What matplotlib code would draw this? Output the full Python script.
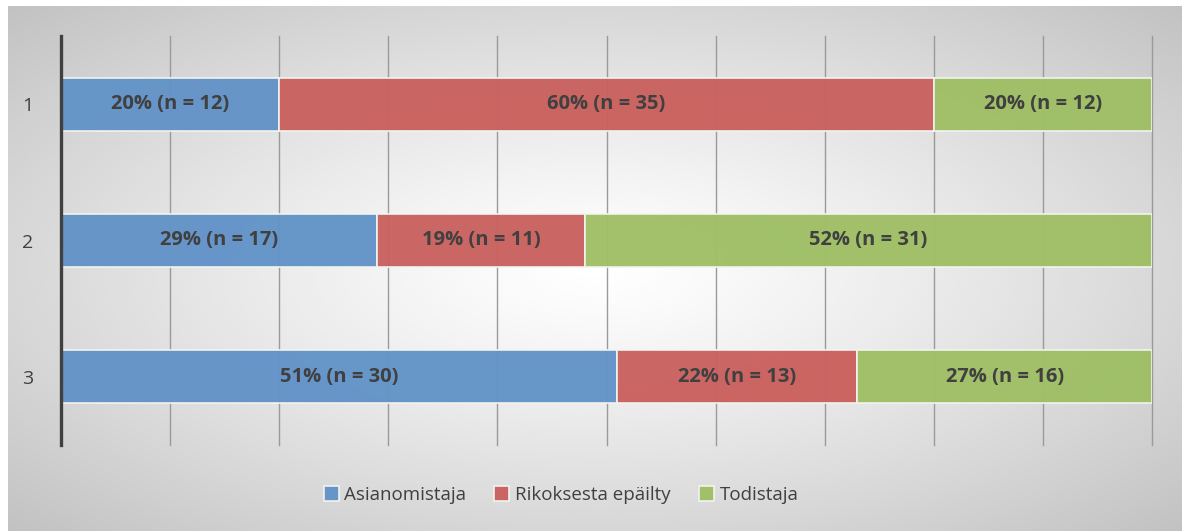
import matplotlib.pyplot as plt
import numpy as np

rows = ['1', '2', '3']
series = ['Asianomistaja', 'Rikoksesta epäilty', 'Todistaja']
pct = {
    'Asianomistaja': [20, 29, 51],
    'Rikoksesta epäilty': [60, 19, 22],
    'Todistaja': [20, 52, 27],
}
counts = {
    'Asianomistaja': [12, 17, 30],
    'Rikoksesta epäilty': [35, 11, 13],
    'Todistaja': [12, 31, 16],
}
colors = ['#6393c8', '#c9615e', '#9fbf65']

plt.rcParams['font.family'] = ['Open Sans', 'DejaVu Sans']

W, H = 1187, 531
fig = plt.figure(figsize=(W / 100, H / 100), dpi=100)

# radial gradient background of the chart area
bg = fig.add_axes([8 / W, 0, (1182 - 8) / W, (531 - 6) / H], zorder=-10)
gx, gy = np.meshgrid(np.linspace(-1, 1, 600), np.linspace(-1, 1, 300))
r = np.sqrt(gx ** 2 + gy ** 2) / np.sqrt(2)
shade = 1.0 - 0.24 * r ** 1.2
bg.imshow(shade, cmap='gray', vmin=0, vmax=1, aspect='auto',
          extent=[0, 1, 0, 1], interpolation='bicubic')
bg.set_axis_off()

ax = fig.add_axes([61 / W, 1 - 445 / H, (1152 - 61) / W, (445 - 36) / H])
ax.patch.set_alpha(0)

y = np.arange(len(rows))
left = np.zeros(len(rows))
for name, c in zip(series, colors):
    vals = np.array(pct[name])
    bars = ax.barh(y, vals, left=left, height=0.39, color=c, alpha=0.97,
                   edgecolor='#f2f5f0', linewidth=1.2, label=name, zorder=3)
    for i, b in enumerate(bars):
        ax.text(left[i] + vals[i] / 2, y[i], f'{vals[i]}% (n = {counts[name][i]})',
                ha='center', va='center', fontsize=14.5, fontweight='bold',
                color='#404040', zorder=4)
    left += vals

ax.set_xlim(0, 100)
ax.set_ylim(len(rows) - 0.5, -0.5)
ax.set_xticks(np.arange(0, 101, 10))
ax.set_xticklabels([])
ax.set_yticks(y)
ax.set_yticklabels(rows, fontsize=14, color='#404040')
ax.tick_params(axis='x', length=0)
ax.tick_params(axis='y', length=0, pad=20)
ax.grid(axis='x', color='#9a9a9a', linewidth=1, zorder=1)
for gl in ax.get_xgridlines():
    gl.set_clip_on(False)
ax.set_axisbelow(True)
for s in ['top', 'right', 'bottom']:
    ax.spines[s].set_visible(False)
ax.spines['left'].set_color('#404040')
ax.spines['left'].set_linewidth(2.4)
ax.spines['left'].set_zorder(5)

handles, labels = ax.get_legend_handles_labels()
leg = fig.legend(handles, labels, loc='center', bbox_to_anchor=(561 / W, 1 - 495 / H),
                 ncol=3, frameon=False, fontsize=13.5, handlelength=0.8, handleheight=0.8,
                 handletextpad=0.3, columnspacing=1.5)
for t in leg.get_texts():
    t.set_color('#404040')

fig.savefig('out.png', dpi=100)
